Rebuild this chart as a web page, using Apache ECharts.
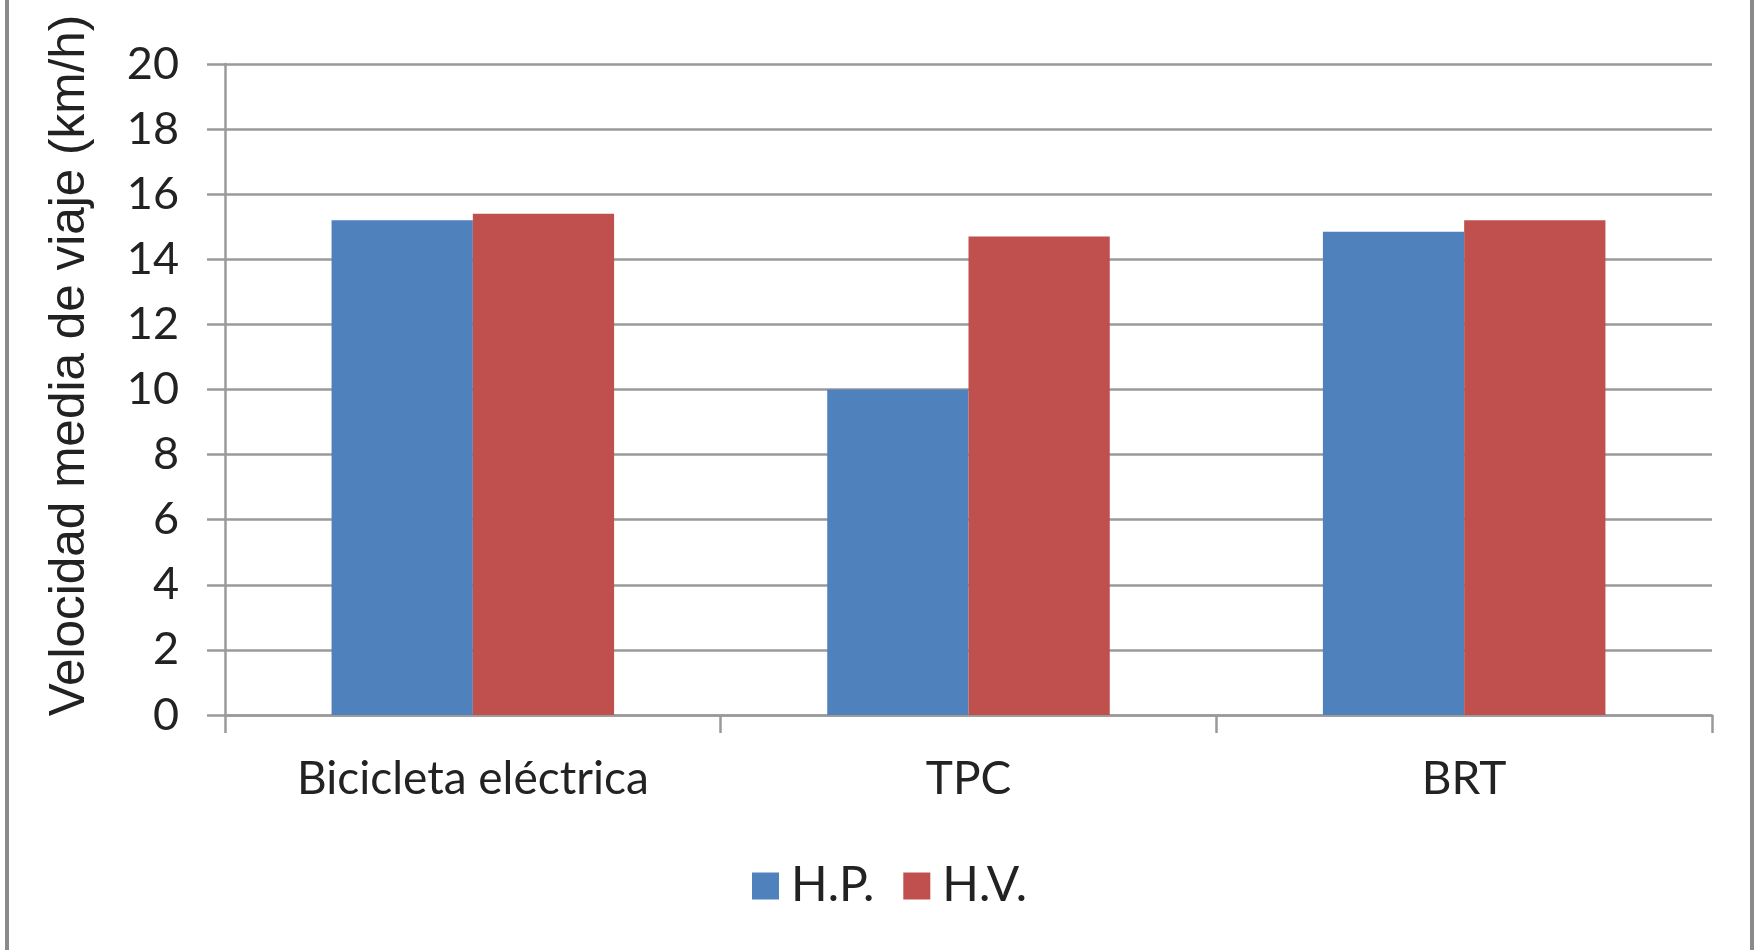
<!DOCTYPE html>
<html>
<head>
<meta charset="utf-8">
<script src="https://cdn.jsdelivr.net/npm/echarts@6/dist/echarts.min.js"></script>
<style>
html,body{margin:0;padding:0;background:#fff;}
#chart{width:1763px;height:950px;}
</style>
</head>
<body>
<div id="chart"></div>
<script>
const categories = ['Bicicleta eléctrica', 'TPC', 'BRT'];
const seriesNames = ['H.P.', 'H.V.'];
const hpValues = [15.2, 10.0, 14.85];
const hvValues = [15.4, 14.7, 15.2];
const yAxisTitle = 'Velocidad media de viaje (km/h)';
const yMin = 0, yMax = 20, yStep = 2;

const chart = echarts.init(document.getElementById('chart'));
const labelFont = 'Lato, "Open Sans", sans-serif';
const textColor = '#222';
const gridColor = '#9a9a9a';

chart.setOption({
  animation: false,
  backgroundColor: '#ffffff',
  grid: { left: 225, right: 51, top: 64, bottom: 235, containLabel: false },
  legend: {
    data: seriesNames,
    top: 857,
    left: 747,
    icon: 'rect',
    itemWidth: 27,
    itemHeight: 27,
    itemGap: 29,
    textStyle: { fontFamily: labelFont, fontSize: 48, color: textColor, padding: [0, 0, 0, 7] }
  },
  xAxis: {
    type: 'category',
    data: categories,
    axisLine: { lineStyle: { color: gridColor, width: 2.5 } },
    axisTick: { show: true, length: 18, alignWithLabel: false, lineStyle: { color: gridColor, width: 2.5 } },
    axisLabel: { fontFamily: labelFont, fontSize: 46, color: textColor, margin: 41 },
    splitLine: { show: false }
  },
  yAxis: {
    type: 'value',
    min: yMin, max: yMax, interval: yStep,
    name: yAxisTitle,
    nameLocation: 'middle',
    nameGap: 130,
    nameTextStyle: { fontFamily: '"Liberation Sans", Arial, sans-serif', fontSize: 49.5, color: textColor, padding: [0, 0, 0, 48] },
    axisLine: { show: true, lineStyle: { color: gridColor, width: 2.5 } },
    axisTick: { show: true, length: 18, lineStyle: { color: gridColor, width: 2.5 } },
    axisLabel: { fontFamily: labelFont, fontSize: 45, color: textColor, margin: 46 },
    splitLine: { show: true, lineStyle: { color: gridColor, width: 2.5 } }
  },
  series: [
    { name: seriesNames[0], type: 'bar', data: hpValues, barGap: '0%', barCategoryGap: '43%', itemStyle: { color: '#4F81BD' } },
    { name: seriesNames[1], type: 'bar', data: hvValues, barGap: '0%', barCategoryGap: '43%', itemStyle: { color: '#C0504D' } }
  ],
  graphic: [
    { type: 'line', shape: { x1: 7, y1: 0, x2: 7, y2: 950 }, style: { stroke: '#8a8a8a', lineWidth: 4 } },
    { type: 'line', shape: { x1: 1752, y1: 0, x2: 1752, y2: 950 }, style: { stroke: '#8a8a8a', lineWidth: 4 } }
  ]
});
</script>
</body>
</html>
